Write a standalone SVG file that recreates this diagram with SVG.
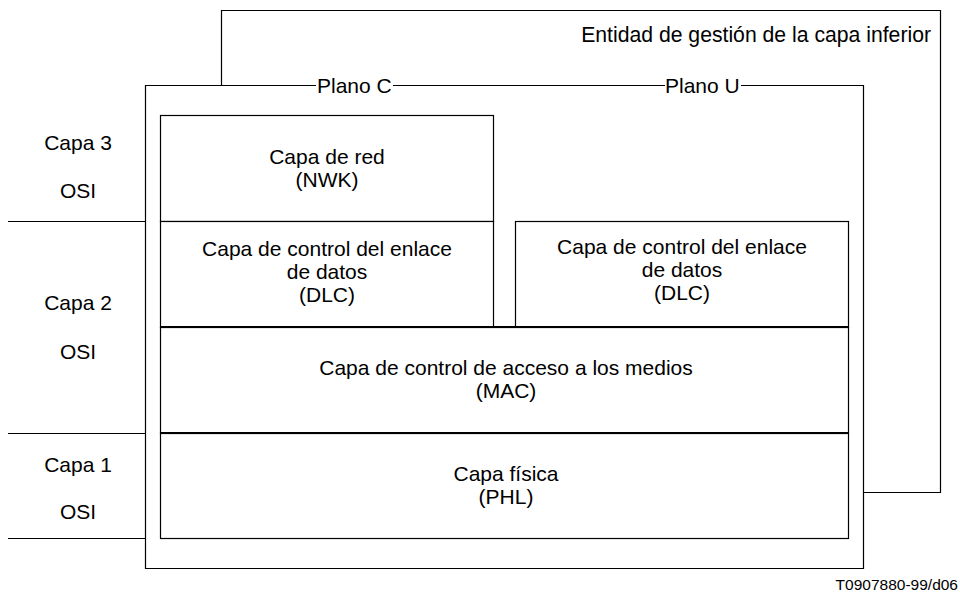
<svg xmlns="http://www.w3.org/2000/svg" width="960" height="594" viewBox="0 0 960 594">
<style>
  .ln { fill: none; stroke: #000; stroke-width: 1.2; }
  .box { fill: #fff; stroke: #000; stroke-width: 1.2; }
  .t { font-family: "Liberation Sans", Arial, sans-serif; font-size: 21px; fill: #000; }
  .c { text-anchor: middle; }
</style>
<rect width="960" height="594" fill="#fff"/>
<g id="entidad">
  <path class="ln" d="M221.5,86 V10.5 H940.5 V492.5 H863.5"/>
  <text class="t" x="931" y="42" text-anchor="end" style="font-size:21.2px">Entidad de gestión de la capa inferior</text>
</g>
<g id="planos">
  <rect x="145.5" y="85.5" width="718" height="483" fill="#fff"/>
  <path class="ln" d="M316,85.5 H145.5 V568.5 H863.5 V85.5 H741 M665,85.5 H393"/>
  <text class="t" x="317" y="93">Plano C</text>
  <text class="t" x="665" y="93">Plano U</text>
</g>
<g id="osi-labels">
  <text class="t c" x="78" y="150">Capa 3</text>
  <text class="t c" x="78" y="198">OSI</text>
  <text class="t c" x="78" y="310">Capa 2</text>
  <text class="t c" x="78" y="359">OSI</text>
  <text class="t c" x="78" y="472">Capa 1</text>
  <text class="t c" x="78" y="519">OSI</text>
</g>
<g id="connectors">
  <line class="ln" x1="8" y1="221.5" x2="146" y2="221.5"/>
  <line class="ln" x1="8" y1="433.5" x2="146" y2="433.5"/>
  <line class="ln" x1="8" y1="538.5" x2="146" y2="538.5" stroke="#555"/>
</g>
<g id="nwk">
  <rect class="box" x="160.5" y="115.5" width="333" height="106"/>
  <text class="t c" x="327" y="164">Capa de red</text>
  <text class="t c" x="327" y="187">(NWK)</text>
</g>
<g id="dlc-c">
  <rect class="box" x="160.5" y="221.5" width="333" height="106"/>
  <text class="t c" x="327" y="256">Capa de control del enlace</text>
  <text class="t c" x="327" y="279">de datos</text>
  <text class="t c" x="327" y="302">(DLC)</text>
</g>
<g id="dlc-u">
  <rect class="box" x="515.5" y="221.5" width="333" height="106"/>
  <text class="t c" x="682" y="254">Capa de control del enlace</text>
  <text class="t c" x="682" y="277">de datos</text>
  <text class="t c" x="682" y="300">(DLC)</text>
</g>
<g id="mac">
  <rect class="box" x="160.5" y="327.5" width="688" height="106"/>
  <line x1="160" y1="327" x2="849" y2="327" stroke="#000" stroke-width="2"/>
  <text class="t c" x="506" y="375">Capa de control de acceso a los medios</text>
  <text class="t c" x="506" y="398">(MAC)</text>
</g>
<g id="phl">
  <rect class="box" x="160.5" y="433.5" width="688" height="105"/>
  <line x1="160" y1="433" x2="849" y2="433" stroke="#000" stroke-width="2"/>
  <text class="t c" x="506" y="481">Capa física</text>
  <text class="t c" x="506" y="504">(PHL)</text>
</g>
<text class="t" x="958" y="590" text-anchor="end" style="font-size:15.5px">T0907880-99/d06</text>
</svg>
